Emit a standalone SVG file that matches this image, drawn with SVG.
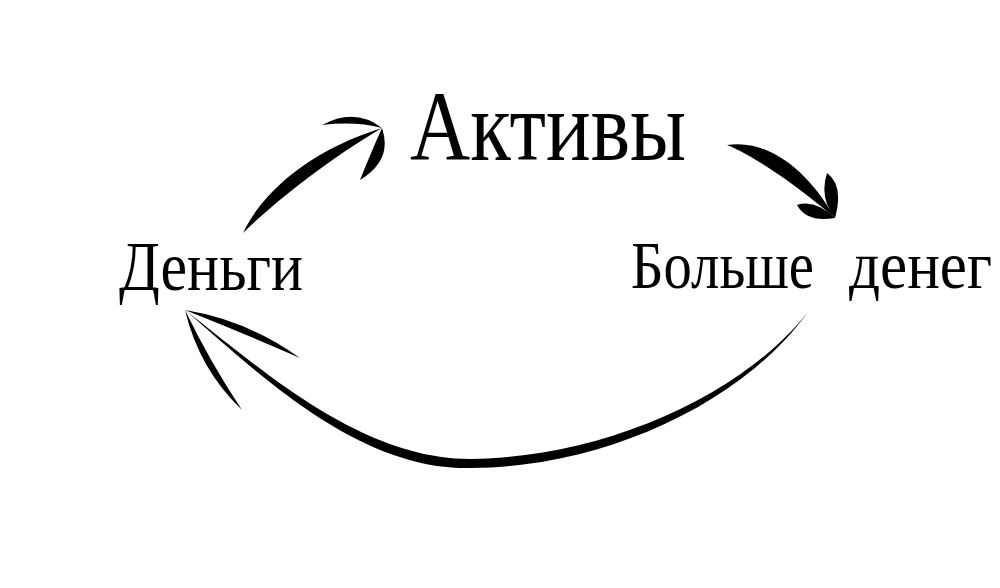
<svg xmlns="http://www.w3.org/2000/svg" width="1000" height="588" viewBox="0 0 1000 588">
  <style>
    .lbl { font-family: "Liberation Serif", "DejaVu Serif", serif; fill: #000; }
    .ink { fill: #000; stroke: none; filter: url(#soft); }
  </style>
  <defs>
    <filter id="soft" x="-10%" y="-10%" width="120%" height="120%">
      <feGaussianBlur stdDeviation="0.7"/>
    </filter>
  </defs>
  <rect width="1000" height="588" fill="#fff"/>

  <g id="connectors">
    <g id="arrow-money-assets">
      <path class="ink" d="M243,233 C264,189 314,149 382,128 C326,161 276,201 243,233 Z"/>
      <path class="ink" d="M382,128 Q355,107 322,125 Q355,121 382,128 Z"/>
      <path class="ink" d="M382,128 Q393,160 360,180 Q372,150 382,128 Z"/>
    </g>
    <g id="arrow-assets-more">
      <path class="ink" d="M727,145 C766,139 806,167 835,218 C794,183 754,156 727,145 Z"/>
      <path class="ink" d="M835,218 Q844,185 827,173 Q819,198 835,218 Z"/>
      <path class="ink" d="M835,218 Q815,199 797,205 Q807,223 835,218 Z"/>
    </g>
    <g id="arrow-more-money">
      <path class="ink" d="M185,310 C260,368 360,459 470,459 C600,458 740,398 808,312 C742,404 602,468 470,468 C358,470 258,373 185,310 Z"/>
      <path class="ink" d="M185,310 Q247,320 300,358 Q243,333 185,310 Z"/>
      <path class="ink" d="M185,310 Q199,369 242,410 Q210,362 185,310 Z"/>
    </g>
  </g>

  <g id="node-assets">
    <text class="lbl" x="410" y="160" font-size="100" textLength="276" lengthAdjust="spacingAndGlyphs">Активы</text>
  </g>
  <g id="node-money">
    <text class="lbl" x="119" y="290" font-size="70" textLength="184" lengthAdjust="spacingAndGlyphs">Деньги</text>
  </g>
  <g id="node-more-money">
    <text class="lbl" y="288" font-size="68"><tspan x="631" textLength="183" lengthAdjust="spacingAndGlyphs">Больше</tspan> <tspan x="849" textLength="143" lengthAdjust="spacingAndGlyphs">денег</tspan></text>
  </g>
</svg>
